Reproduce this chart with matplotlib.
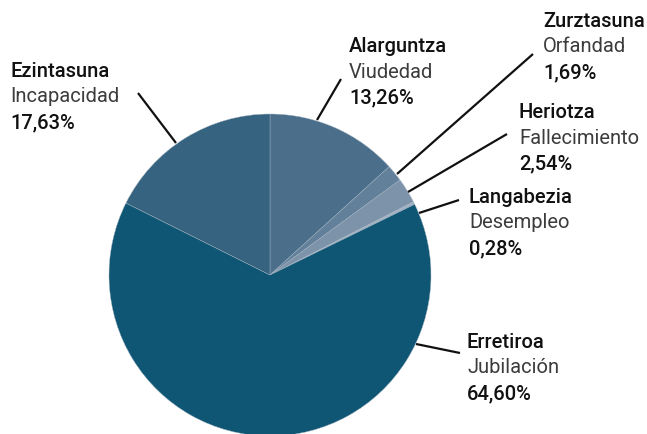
import matplotlib.pyplot as plt

# data
names = ["Alarguntza", "Zurztasuna", "Heriotza", "Langabezia", "Erretiroa", "Ezintasuna"]
names_es = ["Viudedad", "Orfandad", "Fallecimiento", "Desempleo", "Jubilación", "Incapacidad"]
shares = [13.26, 1.69, 2.54, 0.28, 64.60, 17.63]
colors = ["#4b6f8b", "#62809a", "#7d93a9", "#a3b3c3", "#0f5674", "#36637f"]

# layout in pixels from the top-left corner (label x, first baseline, leader start, leader end)
W, H = 647, 435
label_pos = [(349, 52), (543, 27), (519, 118), (469, 203), (467, 348), (10, 77)]
leader_from = [(341, 80), (533, 55), (507, 135), (459, 201), (460, 354), (138, 94)]
leader_to = [(317, 121), (397, 175), (408, 193), (419, 214), (416, 345), (176, 144)]
line_gap = 25.5


def fmt(v):
    return f"{v:.2f}".replace(".", ",") + "%"


fig = plt.figure(figsize=(W / 100, H / 100), dpi=100)
ax = fig.add_axes([0, 0, 1, 1])

ax.pie(shares, colors=colors, startangle=90, counterclock=False,
       center=(270, H - 276), radius=161,
       wedgeprops=dict(edgecolor="#9fb1c0", linewidth=0.3))
ax.set_xlim(0, W)
ax.set_ylim(0, H)
ax.set_aspect("equal")
ax.axis("off")

fs = 14.5
for i in range(len(names)):
    x0, y0 = leader_from[i]
    x1, y1 = leader_to[i]
    ax.plot([x0, x1], [H - y0, H - y1], color="#111111", lw=1.6,
            solid_capstyle="butt")
    lx, ly = label_pos[i]
    ax.text(lx, H - ly, names[i], fontsize=fs, family="Roboto",
            fontweight="medium", color="#111111", va="baseline", ha="left")
    ax.text(lx, H - ly - line_gap, names_es[i], fontsize=fs, family="Roboto",
            color="#3c3c3c", va="baseline", ha="left")
    ax.text(lx, H - ly - 2 * line_gap, fmt(shares[i]), fontsize=fs,
            family="Roboto", fontweight="medium", color="#111111",
            va="baseline", ha="left")

fig.savefig("out.png", dpi=100)
